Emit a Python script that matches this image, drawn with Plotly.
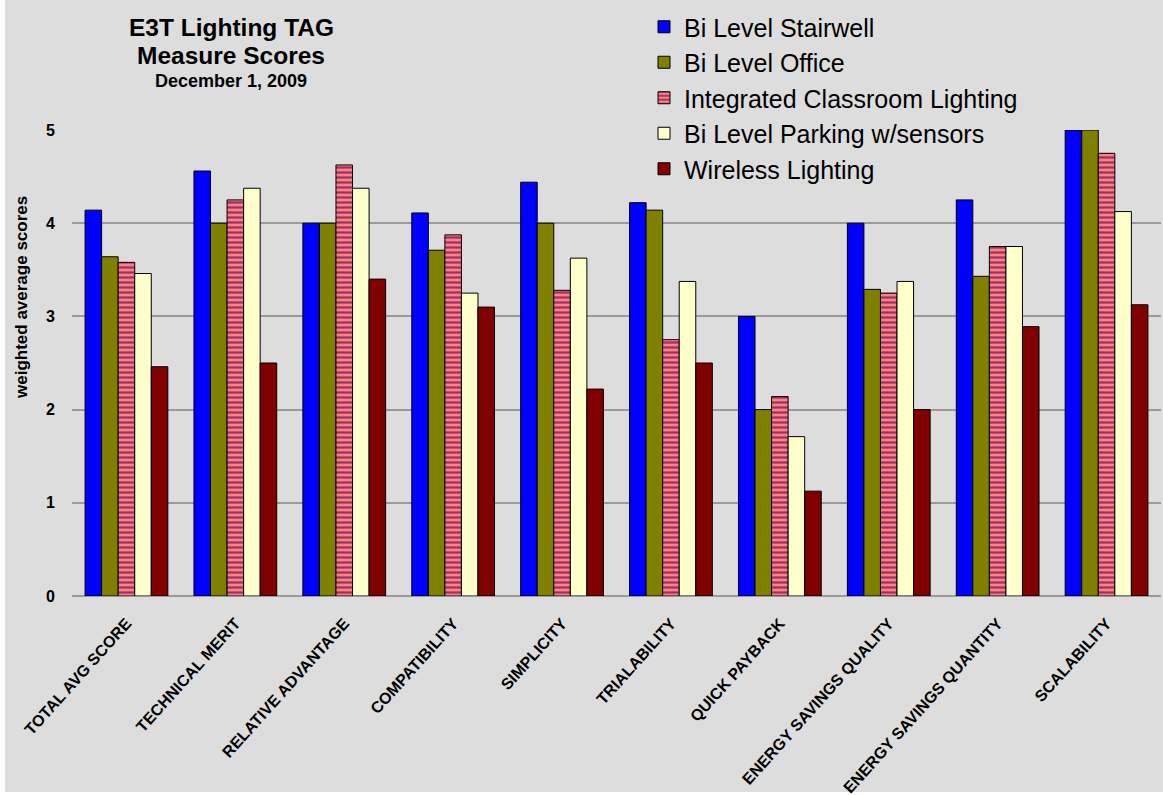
import plotly.graph_objects as go

categories = [
    "TOTAL AVG SCORE", "TECHNICAL MERIT", "RELATIVE ADVANTAGE", "COMPATIBILITY",
    "SIMPLICITY", "TRIALABILITY", "QUICK PAYBACK", "ENERGY SAVINGS QUALITY",
    "ENERGY SAVINGS QUANTITY", "SCALABILITY",
]

bi_level_stairwell = [4.14, 4.56, 4.0, 4.11, 4.44, 4.22, 3.0, 4.0, 4.25, 5.0]
bi_level_office = [3.64, 4.0, 4.0, 3.71, 4.0, 4.14, 2.0, 3.29, 3.43, 5.0]
integrated_classroom = [3.58, 4.25, 4.625, 3.875, 3.28, 2.75, 2.14, 3.25, 3.75, 4.75]
bi_level_parking = [3.46, 4.375, 4.375, 3.25, 3.625, 3.375, 1.71, 3.375, 3.75, 4.125]
wireless_lighting = [2.46, 2.5, 3.4, 3.1, 2.22, 2.5, 1.125, 2.0, 2.89, 3.125]

y_ticks = [0, 1, 2, 3, 4, 5]

BG = "#DDDDDD"
FONT = "Liberation Sans, Arial, sans-serif"
W, H = 1163, 795
ML, MR, MT, MB = 72, 2, 130, 199
pw = W - ML - MR
ph = H - MT - MB


def px_x(x):
    """Pixel column -> paper x."""
    return (x - ML) / pw


def px_y(y):
    """Pixel row -> paper y."""
    return (H - MB - y) / ph


series = [
    ("Bi Level Stairwell", bi_level_stairwell, "#0000FF", None),
    ("Bi Level Office", bi_level_office, "#808000", None),
    ("Integrated Classroom Lighting", integrated_classroom, "#FF8080", "#993366"),
    ("Bi Level Parking w/sensors", bi_level_parking, "#FFFFCC", None),
    ("Wireless Lighting", wireless_lighting, "#800000", None),
]

fig = go.Figure()
for name, vals, color, stripe in series:
    marker = dict(color=color, line=dict(color="#000000", width=1))
    if stripe:
        marker["pattern"] = dict(shape="-", fgcolor=stripe, bgcolor=color,
                                 size=5, solidity=0.45, fillmode="replace")
    fig.add_trace(go.Bar(name=name, x=categories, y=vals, marker=marker))

fig.update_layout(
    width=W, height=H,
    margin=dict(l=ML, r=MR, t=MT, b=MB),
    paper_bgcolor="#FFFFFF",
    plot_bgcolor=BG,
    barmode="group",
    bargap=0.24,
    bargroupgap=0,
    font=dict(family=FONT, color="#000000"),
    xaxis=dict(
        tickangle=-48,
        tickfont=dict(size=16, family=FONT, weight="bold"),
        showgrid=False, showline=False, ticks="",
        ticklabelstandoff=14, automargin=False,
    ),
    yaxis=dict(
        range=[0, 5],
        tickvals=y_ticks,
        tickfont=dict(size=16, family=FONT, weight="bold"),
        showgrid=True, gridcolor="#9A9A9A", gridwidth=1.5,
        zeroline=True, zerolinecolor="#9A9A9A", zerolinewidth=1.5,
        ticks="", ticklabelstandoff=16, automargin=False,
    ),
    showlegend=True,
    legend=dict(
        x=px_x(644), xanchor="left",
        y=px_y(4), yanchor="top",
        bgcolor=BG, borderwidth=0,
        font=dict(size=25, family=FONT),
        itemwidth=30, tracegroupgap=0,
    ),
    shapes=[
        dict(type="rect", xref="paper", yref="paper", layer="below",
             x0=px_x(5), x1=px_x(W), y0=px_y(H - 3), y1=px_y(0),
             fillcolor=BG, line=dict(width=0)),
    ],
    annotations=[
        dict(text="<b>E3T Lighting TAG</b>", x=px_x(231), y=px_y(27),
             xref="paper", yref="paper", showarrow=False, font=dict(size=24.5),
             xanchor="center", yanchor="middle"),
        dict(text="<b>Measure Scores</b>", x=px_x(231), y=px_y(56),
             xref="paper", yref="paper", showarrow=False, font=dict(size=24.5),
             xanchor="center", yanchor="middle"),
        dict(text="<b>December 1, 2009</b>", x=px_x(231), y=px_y(81),
             xref="paper", yref="paper", showarrow=False, font=dict(size=18),
             xanchor="center", yanchor="middle"),
        dict(text="<b>weighted average scores</b>", x=px_x(21), y=px_y(298),
             xref="paper", yref="paper", showarrow=False, font=dict(size=17),
             textangle=-90, xanchor="center", yanchor="middle"),
    ],
)

fig.write_html("out.html")
